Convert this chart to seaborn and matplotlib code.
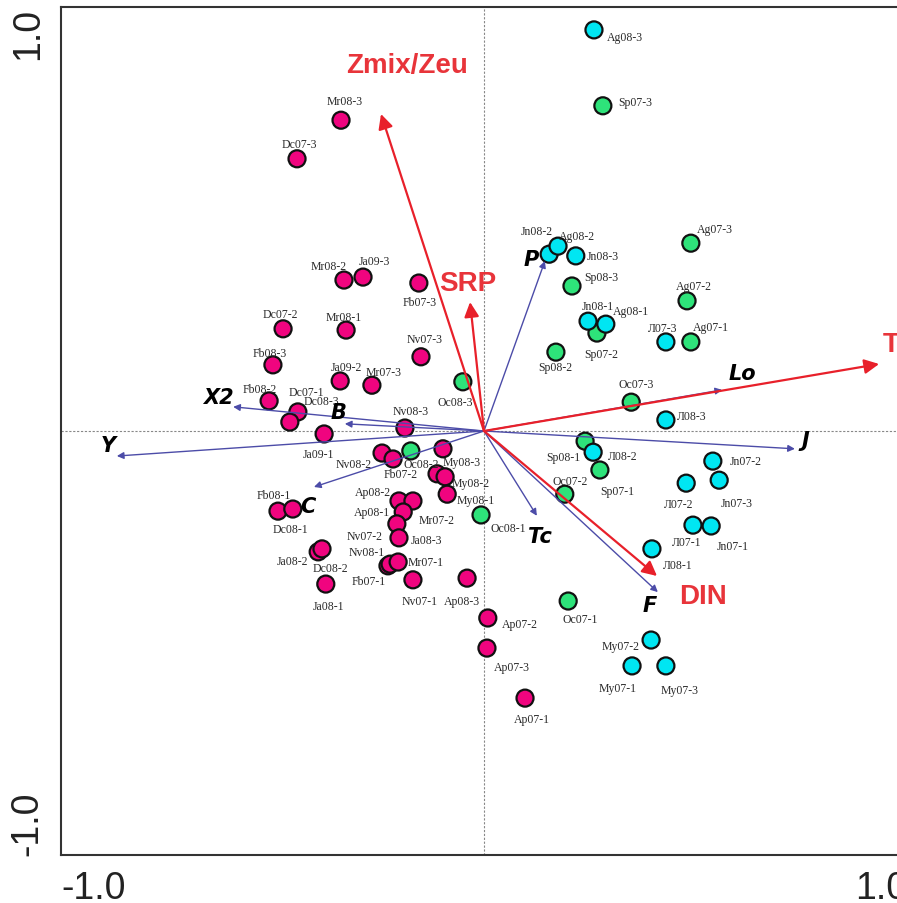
import numpy as np
import pandas as pd
import matplotlib
matplotlib.use("Agg")
import matplotlib.pyplot as plt
import seaborn as sns

sns.set_style("white")
plt.rcParams['font.family'] = ['Liberation Sans', 'DejaVu Sans']

# sample scores (axis 1, axis 2) by group
pink_names = ['Mr08-3', 'Dc07-3', 'Mr08-2', 'Ja09-3', 'Fb07-3', 'Dc07-2', 'Mr08-1', 'Nv07-3',
              'Fb08-3', 'Ja09-2', 'Mr07-3', 'Fb08-2', 'Dc07-1', 'Dc08-3', 'Ja09-1', 'Nv08-3',
              'Nv08-2', 'Fb07-2', 'My08-3', '', 'My08-2', 'My08-1', 'Ap08-2', 'Mr07-2',
              'Ap08-1', 'Nv07-2', 'Ja08-3', 'Fb07-1', 'Nv08-1', 'Mr07-1', 'Nv07-1', 'Ap08-3',
              'Fb08-1', 'Dc08-1', 'Ja08-2', 'Dc08-2', 'Ja08-1', 'Ap07-2', 'Ap07-3', 'Ap07-1']
pink_x = [-0.338, -0.442, -0.331, -0.286, -0.154, -0.475, -0.326, -0.149,
          -0.499, -0.340, -0.265, -0.508, -0.440, -0.459, -0.378, -0.187,
          -0.241, -0.215, -0.097, -0.111, -0.092, -0.087, -0.201, -0.168,
          -0.191, -0.206, -0.201, -0.227, -0.222, -0.203, -0.168, -0.040,
          -0.487, -0.452, -0.392, -0.383, -0.374, 0.009, 0.007, 0.097]
pink_y = [0.733, 0.642, 0.356, 0.363, 0.349, 0.241, 0.238, 0.175,
          0.156, 0.118, 0.108, 0.071, 0.045, 0.021, -0.007, 0.007,
          -0.052, -0.066, -0.042, -0.101, -0.108, -0.149, -0.165, -0.165,
          -0.191, -0.219, -0.252, -0.318, -0.314, -0.309, -0.351, -0.347,
          -0.189, -0.184, -0.285, -0.278, -0.361, -0.441, -0.512, -0.630]

green_names = ['Sp07-3', 'Ag07-3', 'Sp08-3', 'Ag07-2', 'Sp07-2', 'Ag07-1', 'Sp08-2', 'Oc08-3',
               'Oc07-3', 'Oc08-2', 'Sp08-1', 'Sp07-1', 'Oc07-2', 'Oc08-1', 'Oc07-1']
green_x = [0.281, 0.489, 0.208, 0.480, 0.267, 0.489, 0.170, -0.050,
           0.348, -0.173, 0.239, 0.274, 0.191, -0.007, 0.199]
green_y = [0.767, 0.443, 0.342, 0.307, 0.231, 0.210, 0.186, 0.116,
           0.068, -0.047, -0.024, -0.092, -0.149, -0.198, -0.401]

cyan_names = ['Ag08-3', 'Jn08-2', 'Ag08-2', 'Jn08-3', 'Jn08-1', 'Ag08-1', 'Л07-3', 'Л08-3',
              'Л08-2', 'Jn07-2', 'Л07-2', 'Jn07-3', 'Л07-1', 'Jn07-1', 'Л08-1', 'My07-2',
              'My07-1', 'My07-3']
cyan_x = [0.260, 0.154, 0.175, 0.217, 0.246, 0.288, 0.430, 0.430,
          0.258, 0.541, 0.478, 0.556, 0.494, 0.537, 0.397, 0.395,
          0.350, 0.430]
cyan_y = [0.946, 0.417, 0.436, 0.413, 0.259, 0.252, 0.210, 0.026,
          -0.050, -0.071, -0.123, -0.116, -0.222, -0.224, -0.278, -0.493,
          -0.554, -0.554]

# environmental variables (red) and species (blue)
env_names = ['Zmix/Zeu', 'SRP', 'T', 'DIN']
env_x = [-0.2435, -0.033, 0.934, 0.409]
env_y = [0.7476, 0.304, 0.158, -0.342]

spp_names = ['X2', 'Y', 'B', 'C', 'P', 'Lo', 'J', 'Tc', 'F']
spp_x = [-0.593, -0.868, -0.329, -0.402, 0.144, 0.563, 0.735, 0.125, 0.411]
spp_y = [0.057, -0.059, 0.017, -0.132, 0.401, 0.097, -0.042, -0.200, -0.380]

# label placement (pixel offsets from the point)
lab_off = {
    'Mr08-3': (4, 19), 'Dc07-3': (2, 15), 'Mr08-2': (-15, 14), 'Ja09-3': (11, 16),
    'Fb07-3': (1, -19), 'Dc07-2': (-3, 15), 'Mr08-1': (-2, 13), 'Nv07-3': (4, 18),
    'Fb08-3': (-3, 12), 'Ja09-2': (6, 14), 'Mr07-3': (12, 13), 'Fb08-2': (-9, 12),
    'Dc07-1': (8, 20), 'Dc08-3': (32, 21), 'Ja09-1': (-6, -20), 'Nv08-3': (6, 17),
    'Nv08-2': (-28, -11), 'Fb07-2': (8, -15), 'My08-3': (19, -13), 'My08-2': (26, -6),
    'My08-1': (28, -6), 'Ap08-2': (-26, 9), 'Mr07-2': (24, -19), 'Ap08-1': (-31, 0),
    'Nv07-2': (-32, -12), 'Ja08-3': (28, -2), 'Fb07-1': (-19, -15), 'Nv08-1': (-23, 12),
    'Mr07-1': (27, 0), 'Nv07-1': (7, -21), 'Ap08-3': (-5, -23), 'Fb08-1': (-4, 16),
    'Dc08-1': (-2, -20), 'Ja08-2': (-26, -9), 'Dc08-2': (8, -19), 'Ja08-1': (3, -22),
    'Ap07-2': (32, -6), 'Ap07-3': (25, -19), 'Ap07-1': (7, -21),
    'Sp07-3': (32, 4), 'Ag07-3': (24, 14), 'Sp08-3': (29, 9), 'Ag07-2': (7, 15),
    'Sp07-2': (4, -21), 'Ag07-1': (20, 15), 'Sp08-2': (-1, -15), 'Oc08-3': (-8, -20),
    'Oc07-3': (5, 18), 'Oc08-2': (10, -13), 'Sp08-1': (-22, -16), 'Sp07-1': (17, -21),
    'Oc07-2': (5, 13), 'Oc08-1': (27, -13), 'Oc07-1': (12, -18),
    'Ag08-3': (31, -7), 'Jn08-2': (-12, 23), 'Ag08-2': (19, 10), 'Jn08-3': (27, 0),
    'Jn08-1': (10, 15), 'Ag08-1': (25, 13), 'Л07-3': (-3, 14), 'Л08-3': (26, 4),
    'Л08-2': (30, -4), 'Jn07-2': (33, 0), 'Л07-2': (-8, -21), 'Jn07-3': (18, -23),
    'Л07-1': (-6, -17), 'Jn07-1': (22, -20), 'Л08-1': (26, -16), 'My07-2': (-30, -6),
    'My07-1': (-14, -22), 'My07-3': (14, -24),
}
env_lab = {'Zmix/Zeu': (-0.182, 0.863), 'SRP': (-0.038, 0.349), 'T': (0.962, 0.205),
           'DIN': (0.518, -0.389)}
spp_lab = {'X2': (-0.629, 0.080), 'Y': (-0.889, -0.033), 'B': (-0.343, 0.045),
           'C': (-0.416, -0.177), 'P': (0.111, 0.406), 'Lo': (0.610, 0.137),
           'J': (0.759, -0.021), 'Tc': (0.132, -0.248), 'F': (0.392, -0.410)}

df = pd.DataFrame({
    'name': pink_names + green_names + cyan_names,
    'x': pink_x + green_x + cyan_x,
    'y': pink_y + green_y + cyan_y,
    'group': ['pink'] * len(pink_names) + ['green'] * len(green_names) + ['cyan'] * len(cyan_names),
})
palette = {'pink': '#F0047F', 'green': '#2EE37A', 'cyan': '#00E6F2'}

fig = plt.figure(figsize=(8.97, 9.04), dpi=100)
ax = fig.add_axes([61 / 897, 48 / 904, 846 / 897, 848 / 904])

ax.axhline(0, color='#888888', lw=0.8, ls=(0, (2, 1.5)), zorder=1)
ax.axvline(0, color='#888888', lw=0.8, ls=(0, (2, 1.5)), zorder=1)

sns.scatterplot(data=df, x='x', y='y', hue='group', palette=palette, s=150,
                edgecolor='#111111', linewidth=1.6, legend=False, ax=ax, zorder=3)

for _, r in df.iterrows():
    if r['name'] == '':
        continue
    dx, dy = lab_off[r['name']]
    ax.annotate(r['name'], (r['x'], r['y']), xytext=(dx, dy), textcoords='offset pixels',
                ha='center', va='center', fontsize=8.5, color='#2a2a2a',
                family=['Liberation Serif', 'DejaVu Serif'], zorder=4)

# species arrows
for n, x, y in zip(spp_names, spp_x, spp_y):
    ax.annotate('', xy=(x, y), xytext=(0, 0),
                arrowprops=dict(arrowstyle='-|>', color='#4C4CA8', lw=1.0,
                                mutation_scale=10, shrinkA=0, shrinkB=0), zorder=5)
    lx, ly = spp_lab[n]
    ax.text(lx, ly, n, ha='center', va='center', fontsize=15, fontweight='bold',
            fontstyle='italic', color='black', family='DejaVu Sans', zorder=6)

# environmental arrows
for n, x, y in zip(env_names, env_x, env_y):
    ax.annotate('', xy=(x, y), xytext=(0, 0),
                arrowprops=dict(arrowstyle='-|>', color='#E8202A', lw=1.6,
                                mutation_scale=22, shrinkA=0, shrinkB=0), zorder=6)
    lx, ly = env_lab[n]
    ax.text(lx, ly, n, ha='center', va='center', fontsize=20, fontweight='bold',
            color='#E8343A', zorder=7)

ax.set_xlim(-1, 1)
ax.set_ylim(-1, 1)
ax.set_xlabel('')
ax.set_ylabel('')
ax.set_xticks([-1, -0.5, 0.5, 1])
ax.set_xticklabels(['-1.0', '', '', '1.0'])
ax.set_yticks([-1, -0.5, 0.5, 1])
ax.set_yticklabels(['-1.0', '', '', '1.0'], rotation=90)
ax.tick_params(direction='inout', length=10, width=1.2, labelsize=27, pad=6, colors='#222222')
xl = ax.get_xticklabels()
xl[0].set_ha('left')
xl[-1].set_ha('right')
yl = ax.get_yticklabels()
yl[0].set_va('bottom')
yl[-1].set_va('top')
for sp in ax.spines.values():
    sp.set_color('#333333')
    sp.set_linewidth(1.5)

fig.savefig('out.png', dpi=100)
